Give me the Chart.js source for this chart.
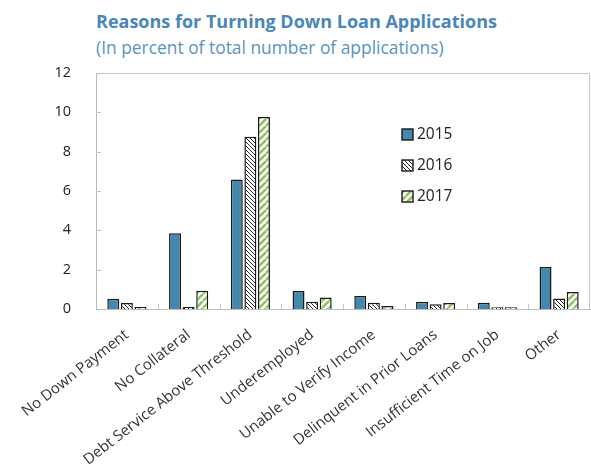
<!DOCTYPE html>
<html>
<head>
<meta charset="utf-8">
<script src="https://cdn.jsdelivr.net/npm/chart.js@4"></script>
<style>
  html, body { margin: 0; padding: 0; background: #fff; }
  #wrap { position: relative; width: 591px; height: 468px; overflow: hidden; }
  #title { position: absolute; left: 96px; top: 9px; font: bold 18px "Open Sans", sans-serif; color: #4a86b6; white-space: nowrap; }
  #subtitle { position: absolute; left: 96px; top: 35px; font: 17.4px "Open Sans", sans-serif; color: #5b93c0; white-space: nowrap; }
  canvas { position: absolute; left: 0; top: 0; }
</style>
</head>
<body>
<div id="wrap">
  <div id="title">Reasons for Turning Down Loan Applications</div>
  <div id="subtitle">(In percent of total number of applications)</div>
  <canvas id="loanChart" width="591" height="468"></canvas>
</div>
<script>
const categories = ['No Down Payment', 'No Collateral', 'Debt Service Above Threshold', 'Underemployed',
  'Unable to Verify Income', 'Delinquent in Prior Loans', 'Insufficient Time on Job', 'Other']
const years = ['2015', '2016', '2017']
const values2015 = [0.52, 3.85, 6.58, 0.92, 0.66, 0.37, 0.32, 2.14]
const values2016 = [0.30, 0.10, 8.76, 0.37, 0.32, 0.24, 0.09, 0.53]
const values2017 = [0.10, 0.93, 9.76, 0.58, 0.15, 0.31, 0.09, 0.87]
const yTicks = [0, 2, 4, 6, 8, 10, 12]

// striped fills
function stripes(size, color, width, dir) {
  const c = document.createElement('canvas')
  c.width = size; c.height = size
  const g = c.getContext('2d')
  g.fillStyle = '#fff'
  g.fillRect(0, 0, size, size)
  g.strokeStyle = color
  g.lineWidth = width
  for (let k = -1; k <= 1; k++) {
    g.beginPath()
    if (dir === 'back') {
      g.moveTo(k * size, 0); g.lineTo(k * size + size, size)
    } else {
      g.moveTo(k * size, size); g.lineTo(k * size + size, 0)
    }
    g.stroke()
  }
  return g.createPattern(c, 'repeat')
}
const blue = '#4588ae'
const hatch2016 = stripes(4, '#222', 1, 'back')
const hatch2017 = stripes(7, '#8cc25c', 2.4, 'fwd')
const fills = [blue, hatch2016, hatch2017]

const frame = {
  id: 'frame',
  afterDraw(chart) {
    const { ctx, chartArea: a, scales } = chart
    ctx.save()
    ctx.strokeStyle = '#c4c4c4'
    ctx.lineWidth = 1
    ctx.beginPath()
    ctx.moveTo(a.left, a.top + 0.5); ctx.lineTo(a.right - 0.5, a.top + 0.5); ctx.lineTo(a.right - 0.5, a.bottom)
    // inward ticks on y
    yTicks.slice(1, -1).forEach(v => {
      const y = Math.round(scales.y.getPixelForValue(v)) + 0.5
      ctx.moveTo(a.left, y); ctx.lineTo(a.left + 5, y)
    })
    // inward ticks between categories
    for (let i = 1; i < categories.length; i++) {
      const x = Math.round((scales.x.getPixelForValue(i - 1) + scales.x.getPixelForValue(i)) / 2) + 0.5
      ctx.moveTo(x, a.bottom); ctx.lineTo(x, a.bottom - 5)
    }
    ctx.stroke()

    // legend
    ctx.font = '15.5px "Open Sans", sans-serif'
    ctx.textBaseline = 'middle'
    years.forEach((yr, i) => {
      const cy = 135 + i * 31
      ctx.fillStyle = fills[i]
      ctx.fillRect(402, cy - 6, 11, 11)
      ctx.strokeStyle = '#1a1a1a'
      ctx.lineWidth = 1.4
      ctx.strokeRect(402, cy - 6, 11, 11)
      ctx.fillStyle = '#222'
      ctx.fillText(yr, 417, cy)
    })
    ctx.restore()
  }
}

const seriesValues = [values2015, values2016, values2017]
new Chart(document.getElementById('loanChart'), {
  type: 'bar',
  data: {
    labels: categories,
    datasets: years.map((yr, i) => ({
      label: yr,
      data: seriesValues[i],
      backgroundColor: fills[i],
      borderColor: '#1a1a1a',
      borderWidth: 1.5,
      categoryPercentage: 0.66,
      barPercentage: 0.88
    }))
  },
  options: {
    responsive: false,
    animation: false,
    layout: { autoPadding: false, padding: { top: 73, left: 46, right: 1, bottom: 0 } },
    plugins: { legend: { display: false }, tooltip: { enabled: false } },
    scales: {
      x: {
        grid: { display: false },
        border: { color: '#bdbdbd' },
        afterFit: s => { s.height = 159; s.paddingLeft = 0; s.paddingRight = 0 },
        ticks: {
          color: '#333',
          font: { family: 'Open Sans', size: 15 },
          maxRotation: 38, minRotation: 38,
          autoSkip: false,
          padding: 9
        }
      },
      y: {
        min: 0, max: 12,
        grid: { display: false },
        border: { color: '#bdbdbd' },
        afterFit: s => { s.width = 50; s.paddingTop = 0; s.paddingBottom = 0 },
        ticks: {
          stepSize: 2,
          color: '#222',
          font: { family: 'Open Sans', size: 14.5 },
          padding: 17
        }
      }
    }
  },
  plugins: [frame]
})
</script>
</body>
</html>
